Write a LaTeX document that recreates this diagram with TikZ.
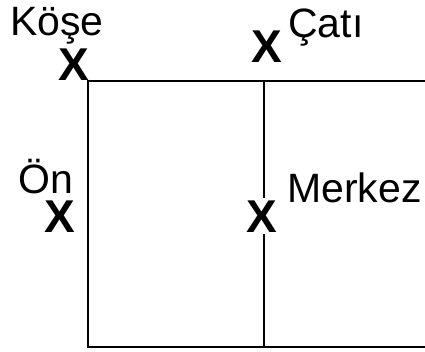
\documentclass[tikz,border=0pt]{standalone}
\usepackage{fontspec}
\setmainfont{Liberation Sans}
\begin{document}
\begin{tikzpicture}[x=1pt,y=-1pt,
  label/.style={inner sep=0pt,anchor=base west,font=\fontsize{41}{44}\selectfont},
  mark x/.style={inner sep=0pt,anchor=base,font=\bfseries\fontsize{46}{50}\selectfont},
  wall/.style={line width=2pt,black}]
\useasboundingbox[fill=white] (0,0) rectangle (425,351);

% outline of the plan
\coordinate (tl) at (88,81);
\coordinate (bl) at (88,347);
\coordinate (tr) at (425,81);
\coordinate (br) at (425,347);
\coordinate (mt) at (264,81);
\coordinate (mb) at (264,347);
\draw[wall] (tr) -- (tl) -- (bl) -- (br);

% position marks
\node[mark x] (xk) at (74,80) {X};
\node[mark x] (xc) at (267,62) {X};
\node[mark x] (xo) at (60,232) {X};
\node[mark x,inner sep=2pt] (xm) at (262,232) {X};

% centre wall, broken by the centre mark
\draw[wall] (mt) -- (mt |- xm.north);
\draw[wall] (mb |- xm.south) -- (mb);

% names
\node[label] (lk) at (10,35) {Köşe};
\node[label] (lc) at (288,37) {Çatı};
\node[label] (lo) at (18,193) {Ön};
\node[label] (lm) at (287,202) {Merkez};
\end{tikzpicture}
\end{document}
